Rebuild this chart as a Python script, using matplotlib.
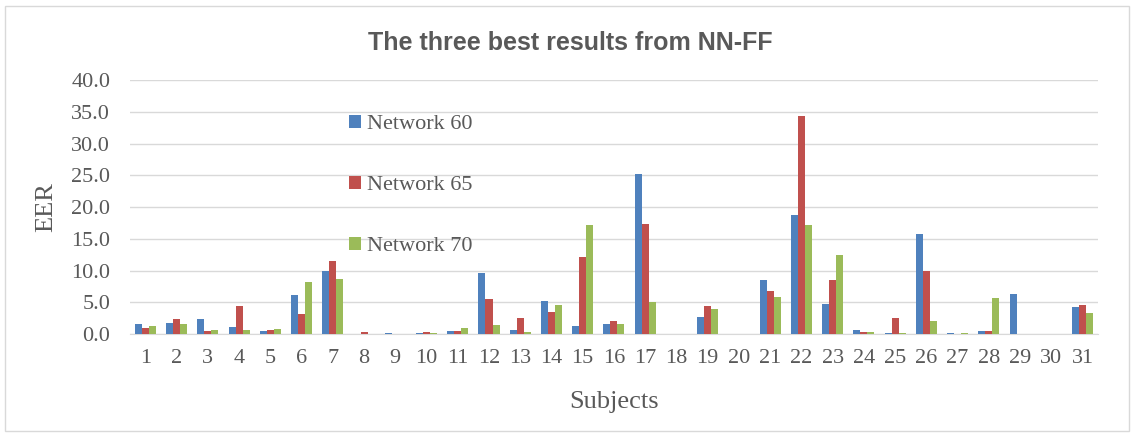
from matplotlib import pyplot as plt
import numpy as np

subjects = [str(i) for i in range(1, 32)]
net60 = [1.6, 1.7, 2.4, 1.1, 0.5, 6.2, 10.0, 0.0, 0.1, 0.1, 0.5, 9.6, 0.6, 5.2, 1.3, 1.6,
         25.2, 0.0, 2.7, 0.0, 8.5, 18.8, 4.7, 0.7, 0.1, 15.8, 0.1, 0.5, 6.3, 0.0, 4.2]
net65 = [1.0, 2.4, 0.4, 4.4, 0.7, 3.2, 11.5, 0.3, 0.0, 0.3, 0.5, 5.5, 2.6, 3.5, 12.2, 2.0,
         17.4, 0.0, 4.4, 0.0, 6.8, 34.3, 8.5, 0.3, 2.6, 10.0, 0.0, 0.5, 0.0, 0.0, 4.5]
net70 = [1.2, 1.5, 0.6, 0.6, 0.8, 8.2, 8.7, 0.0, 0.0, 0.1, 1.0, 1.4, 0.3, 4.6, 17.1, 1.5,
         5.1, 0.0, 4.0, 0.0, 5.8, 17.2, 12.5, 0.3, 0.1, 2.0, 0.1, 5.7, 0.0, 0.0, 3.3]
series_names = ['Network 60', 'Network 65', 'Network 70']
yticks = np.arange(0, 40.1, 5)

colors = ['#4F81BD', '#C0504D', '#9BBB59']
grey = '#595959'

fig = plt.figure(figsize=(11.38, 4.33), dpi=100)
ax = fig.add_axes([0.114, 0.2286, 0.851, 0.5864])

# light frame around the whole chart like in Excel
fig.patches.append(plt.Rectangle((0.004, 0.005), 0.988, 0.98, transform=fig.transFigure,
                                 fill=False, edgecolor='#D9D9D9', linewidth=1))

x = np.arange(len(subjects))
w = 0.225
for i, (vals, name) in enumerate(zip([net60, net65, net70], series_names)):
    ax.bar(x + (i - 1) * w, vals, w, color=colors[i], label=name, zorder=3)

ax.set_xlim(-0.5, len(subjects) - 0.5)
ax.set_ylim(0, 40)
ax.set_yticks(yticks)
ax.set_yticklabels(['{:.1f}'.format(v) for v in yticks])
ax.set_xticks(x)
ax.set_xticklabels(subjects)
ax.tick_params(length=0, labelsize=16, labelcolor=grey)
for lab in ax.get_xticklabels() + ax.get_yticklabels():
    lab.set_family('Liberation Serif')
ax.tick_params(axis='x', pad=11)
ax.tick_params(axis='y', pad=14)

ax.grid(axis='y', color='#D9D9D9', linewidth=1, zorder=0)
for s in ['top', 'right', 'left']:
    ax.spines[s].set_visible(False)
ax.spines['bottom'].set_color('#D9D9D9')

ax.set_xlabel('Subjects', family='Liberation Serif', fontsize=19, color=grey, labelpad=16)
ax.set_ylabel('EER', family='Liberation Serif', fontsize=19, color=grey, labelpad=10)
fig.text(0.501, 0.90, 'The three best results from NN-FF', ha='center', va='center',
         family='Liberation Sans', fontweight='bold', fontsize=18, color=grey)

ax.legend(loc='center left', bbox_to_anchor=(0.226, 0.585), frameon=False,
          prop={'family': 'Liberation Serif', 'size': 16}, labelcolor=grey,
          labelspacing=1.86, handlelength=0.55, handleheight=0.55, handletextpad=0.3,
          borderpad=0, borderaxespad=0)

fig.savefig('out.png', dpi=100)
